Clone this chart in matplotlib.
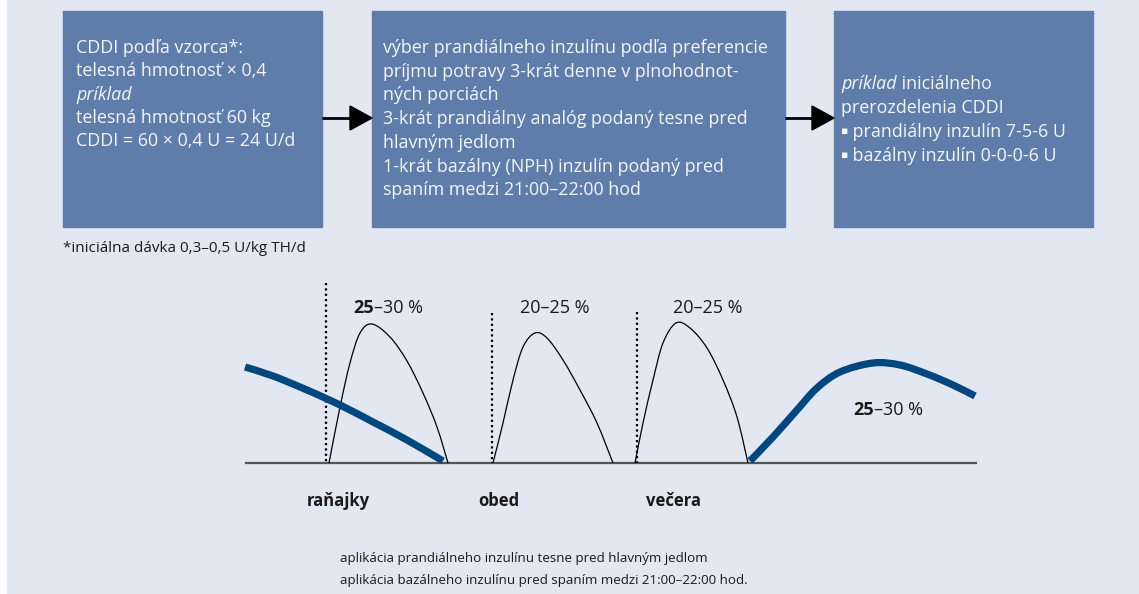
import matplotlib
matplotlib.use("Agg")
import matplotlib.pyplot as plt
from matplotlib.patches import Rectangle, Polygon, PathPatch
from matplotlib.path import Path

plt.rcParams['font.family'] = ['Open Sans', 'DejaVu Sans']

# texty v boxoch
box1_lines = [
    [("CDDI podľa vzorca*:", "normal")],
    [("telesná hmotnosť × 0,4", "normal")],
    [("príklad", "italic")],
    [("telesná hmotnosť 60 kg", "normal")],
    [("CDDI = 60 × 0,4 U = 24 U/d", "normal")],
]
box2_lines = [
    "výber prandiálneho inzulínu podľa preferencie",
    "príjmu potravy 3-krát denne v plnohodnot-",
    "ných porciách",
    "3-krát prandiálny analóg podaný tesne pred",
    "hlavným jedlom",
    "1-krát bazálny (NPH) inzulín podaný pred",
    "spaním medzi 21:00–22:00 hod",
]
box3_lines = [
    [("príklad", "italic"), (" iniciálneho", "normal")],
    [("prerozdelenia CDDI", "normal")],
    [("▪", "bullet"), (" prandiálny inzulín 7-5-6 U", "normal")],
    [("▪", "bullet"), (" bazálny inzulín 0-0-0-6 U", "normal")],
]
footnote = "*iniciálna dávka 0,3–0,5 U/kg TH/d"
meals = ["raňajky", "obed", "večera"]
bottom_lines = [
    "aplikácia prandiálneho inzulínu tesne pred hlavným jedlom",
    "aplikácia bazálneho inzulínu pred spaním medzi 21:00–22:00 hod.",
]

# krivky odčítané z obrázka (x, y v pixeloch)
prandial1_x = [329, 340, 350, 360, 372, 390, 407, 423, 437, 448]
prandial1_y = [463, 407, 363, 333, 324, 337, 361, 393, 427, 463]
prandial2_x = [493, 503, 513, 523, 535, 547, 563, 580, 597, 613]
prandial2_y = [463, 423, 380, 347, 333, 338, 360, 390, 423, 463]
prandial3_x = [635, 643, 653, 663, 676, 690, 707, 723, 737, 748]
prandial3_y = [463, 423, 380, 343, 323, 328, 348, 380, 417, 463]
basal1_x = [245, 273, 307, 340, 373, 407, 443]
basal1_y = [367, 376, 390, 405, 422, 440, 461]
basal2_x = [750, 773, 797, 817, 840, 873, 900, 927, 953, 975]
basal2_y = [461, 437, 410, 388, 372, 363, 365, 374, 385, 396]
dotted_x = [326, 492, 637]
dotted_top = [283, 313, 312]

bg = "#E3E7F1"
box_c = "#5F7DAA"
blue = "#00467F"
txt_w = "#F4F6FA"
txt_k = "#1A1A1A"

fig = plt.figure(figsize=(11.39, 5.94), dpi=100, facecolor="white")
ax = fig.add_axes([0, 0, 1, 1])
ax.set_xlim(0, 1139)
ax.set_ylim(594, 0)
ax.axis("off")
renderer = fig.canvas.get_renderer()

ax.add_patch(Rectangle((7, 0), 1132, 594, color=bg, zorder=0))


def run(x, y, parts, size, color, weight_first=None):
    # vypíše kúsky textu za sebou na jednom riadku
    for i, (s, style) in enumerate(parts):
        w = "normal"
        sz = size
        yy = y
        if weight_first and i == 0:
            w = weight_first
        if style == "bullet":
            style = "normal"
            sz = size * 0.6
            yy = y - 3.5
        t = ax.text(x, yy, s, fontsize=sz, color=color, style=style,
                    weight=w, va="baseline", ha="left")
        bb = t.get_window_extent(renderer)
        x += bb.width


def smooth(xs, ys, **kw):
    # hladká krivka cez odčítané body (Catmull-Rom -> Bezier)
    pts = list(zip(xs, ys))
    n = len(pts)
    verts = [pts[0]]
    codes = [Path.MOVETO]
    for i in range(n - 1):
        p0 = pts[max(i - 1, 0)]
        p1 = pts[i]
        p2 = pts[i + 1]
        p3 = pts[min(i + 2, n - 1)]
        c1 = (p1[0] + (p2[0] - p0[0]) / 6, p1[1] + (p2[1] - p0[1]) / 6)
        c2 = (p2[0] - (p3[0] - p1[0]) / 6, p2[1] - (p3[1] - p1[1]) / 6)
        verts += [c1, c2, p2]
        codes += [Path.CURVE4] * 3
    ax.add_patch(PathPatch(Path(verts, codes), fill=False, **kw))


# boxy
for x0, x1 in [(63, 322), (372, 785), (834, 1093)]:
    ax.add_patch(Rectangle((x0, 11), x1 - x0, 216, color=box_c, zorder=1))

fs = 12.9
for i, parts in enumerate(box1_lines):
    run(76, 53 + i * 23.3, parts, fs, txt_w)
for i, s in enumerate(box2_lines):
    ax.text(383, 53 + i * 23.7, s, fontsize=fs, color=txt_w, va="baseline")
for i, parts in enumerate(box3_lines):
    run(841, 89 + i * 24, parts, fs, txt_w)

# šípky
for x0, x1 in [(322, 372), (785, 834)]:
    ax.plot([x0, x1 - 20], [118, 118], color="black", lw=2, solid_capstyle="butt")
    ax.add_patch(Polygon([(x1 - 22, 106), (x1, 118), (x1 - 22, 130)],
                         closed=True, color="black"))

ax.text(63, 252, footnote, fontsize=11, color=txt_k, va="baseline")

# graf
ax.plot([246, 976], [463, 463], color="#555555", lw=1.6, zorder=2)
for x, top in zip(dotted_x, dotted_top):
    ax.plot([x, x], [top, 463], color="black", lw=1.6, ls=(0, (1, 1.4)), zorder=3)
for px, py in [(prandial1_x, prandial1_y), (prandial2_x, prandial2_y),
               (prandial3_x, prandial3_y)]:
    smooth(px, py, edgecolor="black", lw=0.9, zorder=3)
for bx, by in [(basal1_x, basal1_y), (basal2_x, basal2_y)]:
    smooth(bx, by, edgecolor=blue, lw=5.2, capstyle="butt",
           joinstyle="round", zorder=4)

lfs = 13
run(353, 313, [("25", "normal"), ("–30 %", "normal")], lfs, txt_k, weight_first="bold")
run(520, 313, [("20–25 %", "normal")], lfs, txt_k)
run(673, 313, [("20–25 %", "normal")], lfs, txt_k)
run(853, 415, [("25", "normal"), ("–30 %", "normal")], lfs, txt_k, weight_first="bold")

for x, s in zip([307, 478, 646], meals):
    ax.text(x, 506, s, fontsize=12, weight="bold", color=txt_k, va="baseline")

for i, s in enumerate(bottom_lines):
    ax.text(340, 562 + i * 22, s, fontsize=9.6, color=txt_k, va="baseline")

fig.savefig("out.png", dpi=100, facecolor=fig.get_facecolor())
